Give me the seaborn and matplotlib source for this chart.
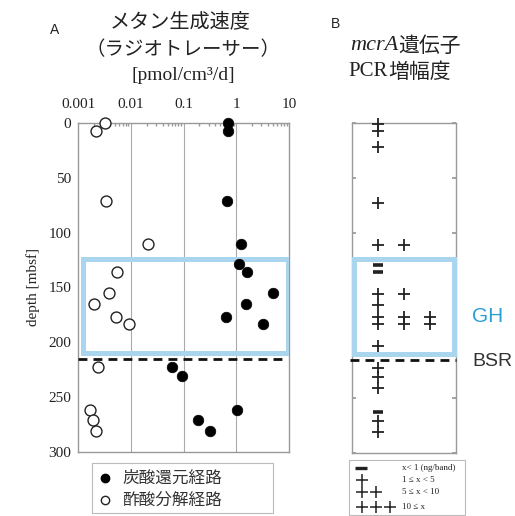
import numpy as np
import pandas as pd
import matplotlib
matplotlib.use("Agg")
import matplotlib.pyplot as plt
import matplotlib.transforms as mtransforms
from matplotlib.patches import Rectangle
from matplotlib.lines import Line2D
import seaborn as sns

# ---------------- data ----------------
co2_rate = [0.71, 0.69, 0.66, 1.23, 1.13, 1.58, 4.9, 1.5, 0.63, 3.2, 0.06, 0.093, 1.05, 0.186, 0.32]
co2_depth = [0, 7, 71, 110, 129, 135.5, 155, 165, 176.5, 183, 222.5, 231, 261.5, 271, 281]
ace_rate = [0.0032, 0.00216, 0.0034, 0.021, 0.0056, 0.0039, 0.002, 0.0052, 0.0093, 0.0024, 0.0017, 0.0019, 0.0022]
ace_depth = [0, 7, 71, 110, 135.5, 155, 165, 176.5, 183, 222.5, 261.5, 271, 281]

mcr_depth = [1, 7, 21.5, 72.5, 110.5, 128.8, 135.5, 155.5, 165, 176.5, 183, 203, 222.5, 231, 240.5, 262.5, 271, 281]
mcr_level = [1, 1, 1, 1, 2, 0, 0, 2, 1, 3, 3, 1, 1, 1, 1, 0, 1, 1]

x_ticks = [0.001, 0.01, 0.1, 1, 10]
x_ticklabels = ["0.001", "0.01", "0.1", "1", "10"]
y_ticks = [0, 50, 100, 150, 200, 250, 300]
legend_labels = ["炭酸還元経路", "酢酸分解経路"]
mcr_legend_sym = ["−", "+", "++", "+++"]
mcr_legend_txt = ["x< 1 (ng/band)", "1 ≤ x < 5", "5 ≤ x < 10", "10 ≤ x"]
gh_top, gh_bottom, bsr_depth = 124, 210, 215

# ---------------- style ----------------
sns.set_theme(style="white")
plt.rcParams["font.family"] = ["Noto Sans CJK JP", "DejaVu Sans"]
SERIF = ["Liberation Serif", "DejaVu Serif"]
CJK = ["Noto Sans CJK JP", "DejaVu Sans"]
W, H = 515, 516
fig = plt.figure(figsize=(W / 100, H / 100), dpi=100)

def fx(px):
    return px / W

def fy(py):
    return 1 - py / H

spine_c = "#999999"
box_c = "#a9d5ee"
txt_c = "#222222"

# ---------------- panel A ----------------
axA = fig.add_axes([fx(78), fy(452), fx(289) - fx(78), fy(123) - fy(452)])
dfc = pd.DataFrame({"rate": co2_rate, "depth": co2_depth})
dfa = pd.DataFrame({"rate": ace_rate, "depth": ace_depth})
sns.scatterplot(data=dfa, x="rate", y="depth", ax=axA, s=62, color="white",
                edgecolor="#222222", linewidth=1.0, zorder=5, clip_on=False)
sns.scatterplot(data=dfc, x="rate", y="depth", ax=axA, s=58, color="black",
                edgecolor="black", linewidth=0.5, zorder=5, clip_on=False)
axA.set_xscale("log")
axA.set_xlim(0.001, 10)
axA.set_ylim(300, 0)
axA.set_xlabel("")
axA.set_ylabel("depth [mbsf]", fontfamily=SERIF, fontsize=11, color=txt_c, labelpad=6)
axA.xaxis.tick_top()
axA.set_xticks(x_ticks)
axA.set_xticklabels(x_ticklabels, fontfamily=SERIF, fontsize=11, color=txt_c)
axA.set_yticks(y_ticks)
axA.set_yticklabels([str(v) for v in y_ticks], fontfamily=SERIF, fontsize=11, color=txt_c)
axA.tick_params(axis="x", which="major", direction="in", length=0, pad=9, top=True, bottom=False)
axA.tick_params(axis="x", which="minor", direction="in", length=2.5, color=spine_c, top=True, bottom=False)
axA.tick_params(axis="y", which="major", direction="in", length=3, color=spine_c, pad=5)
axA.xaxis.set_minor_locator(matplotlib.ticker.LogLocator(base=10, subs=np.arange(2, 10)))
for xv in x_ticks[1:-1]:
    axA.axvline(xv, color="#aaaaaa", lw=0.8, zorder=1)
for s in axA.spines.values():
    s.set_color(spine_c)
    s.set_linewidth(1.0)

trA = mtransforms.blended_transform_factory(axA.transAxes, axA.transData)
axA.add_patch(Rectangle((0.024, gh_top), 0.971, gh_bottom - gh_top, transform=trA,
                        fill=False, edgecolor=box_c, lw=3.6, zorder=3))
axA.plot([0.0, 0.965], [bsr_depth, bsr_depth], transform=trA, color="#111111",
         lw=2.0, dashes=(3.2, 2.2), zorder=4)

# ---------------- panel B ----------------
axB = fig.add_axes([fx(352), fy(453), fx(456) - fx(352), fy(123) - fy(453)])
rows = []
for d, lv in zip(mcr_depth, mcr_level):
    if lv == 0:
        rows.append({"col": 1, "depth": d, "kind": "minus"})
    else:
        for c in range(1, lv + 1):
            rows.append({"col": c, "depth": d, "kind": "plus"})
dfm = pd.DataFrame(rows)
sns.scatterplot(data=dfm[dfm.kind == "plus"], x="col", y="depth", ax=axB, marker="+",
                s=70, color="#222222", linewidth=1.3, zorder=5, clip_on=False)
sns.scatterplot(data=dfm[dfm.kind == "minus"], x="col", y="depth", ax=axB, marker="_",
                s=60, color="#222222", linewidth=2.6, zorder=5, clip_on=False)
axB.set_xlim(0, 4)
axB.set_ylim(300, 0)
axB.set_xlabel("")
axB.set_ylabel("")
axB.set_xticks([])
axB.set_yticks(y_ticks)
axB.set_yticklabels([])
axB.tick_params(axis="y", direction="in", length=3, color=spine_c, left=True, right=True)
for s in axB.spines.values():
    s.set_color(spine_c)
    s.set_linewidth(1.0)
trB = mtransforms.blended_transform_factory(axB.transAxes, axB.transData)
axB.add_patch(Rectangle((0.024, gh_top), 0.956, gh_bottom - gh_top, transform=trB,
                        fill=False, edgecolor=box_c, lw=3.6, zorder=3, clip_on=False))
axB.plot([-0.02, 1.0], [bsr_depth, bsr_depth], transform=trB, color="#111111",
         lw=2.0, dashes=(3.2, 2.2), zorder=4, clip_on=False)

fig.text(fx(472), fy(316), "GH", fontsize=15, color="#2a9fd6",
         fontfamily=["Liberation Sans Narrow", "Liberation Sans"], va="center", ha="left")
fig.text(fx(472), fy(362), "BSR", fontsize=14, color="#333333",
         fontfamily=["Liberation Sans Narrow", "Liberation Sans"], va="center", ha="left")

# ---------------- titles ----------------
fig.text(fx(55), fy(30), "A", fontsize=10, color=txt_c, fontfamily=["Liberation Sans"],
         ha="center", va="center")
fig.text(fx(180), fy(22), "メタン生成速度", fontsize=14.5, color=txt_c, fontfamily=CJK,
         ha="center", va="center")
fig.text(fx(183), fy(50), "（ラジオトレーサー）", fontsize=14, color=txt_c, fontfamily=CJK,
         ha="center", va="center")
fig.text(fx(183), fy(76), "[pmol/cm³/d]", fontsize=14, color=txt_c, fontfamily=SERIF,
         ha="center", va="center")

fig.text(fx(336), fy(24), "B", fontsize=10, color=txt_c, fontfamily=["Liberation Sans"],
         ha="center", va="center")
fig.text(fx(398), fy(46), "mcrA", fontsize=16, color=txt_c, fontfamily=SERIF,
         style="italic", ha="right", va="center")
fig.text(fx(398), fy(46), "遺伝子", fontsize=15, color=txt_c, fontfamily=CJK,
         ha="left", va="center")
fig.text(fx(388), fy(72), "PCR", fontsize=15, color=txt_c, fontfamily=SERIF,
         ha="right", va="center")
fig.text(fx(388), fy(72), "増幅度", fontsize=15, color=txt_c, fontfamily=CJK,
         ha="left", va="center")

# ---------------- legend A ----------------
fig.add_artist(Rectangle((fx(92), fy(513)), fx(273) - fx(92), fy(463) - fy(513),
                         transform=fig.transFigure, fill=False, edgecolor="#bbbbbb", lw=0.8))
fig.add_artist(Line2D([fx(105)], [fy(478)], marker="o", ms=6, color="black",
                      transform=fig.transFigure))
fig.add_artist(Line2D([fx(105)], [fy(500)], marker="o", ms=6, markerfacecolor="white",
                      markeredgecolor="#222222", mew=1.0, transform=fig.transFigure))
fig.text(fx(122), fy(478), legend_labels[0], fontsize=12, color="#333333", fontfamily=CJK,
         ha="left", va="center")
fig.text(fx(122), fy(500), legend_labels[1], fontsize=12, color="#333333", fontfamily=CJK,
         ha="left", va="center")

# ---------------- legend B ----------------
fig.add_artist(Rectangle((fx(349), fy(515)), fx(465) - fx(349), fy(460) - fy(515),
                         transform=fig.transFigure, fill=False, edgecolor="#bbbbbb", lw=0.8))
leg_rows_y = [468, 480, 492, 507]
for i, (sym, txt) in enumerate(zip(mcr_legend_sym, mcr_legend_txt)):
    yy = fy(leg_rows_y[i])
    if sym == "−":
        fig.add_artist(Line2D([fx(361)], [yy], marker="_", ms=8, mew=2.4, color="#222222",
                              transform=fig.transFigure))
    else:
        for k in range(len(sym)):
            fig.add_artist(Line2D([fx(362 + 14 * k)], [yy], marker="+", ms=8, mew=1.1,
                                  color="#222222", transform=fig.transFigure))
    fig.text(fx(402), yy, txt, fontsize=6.5, color="#222222", fontfamily=SERIF,
             ha="left", va="center")

fig.savefig("out.png", dpi=100)
